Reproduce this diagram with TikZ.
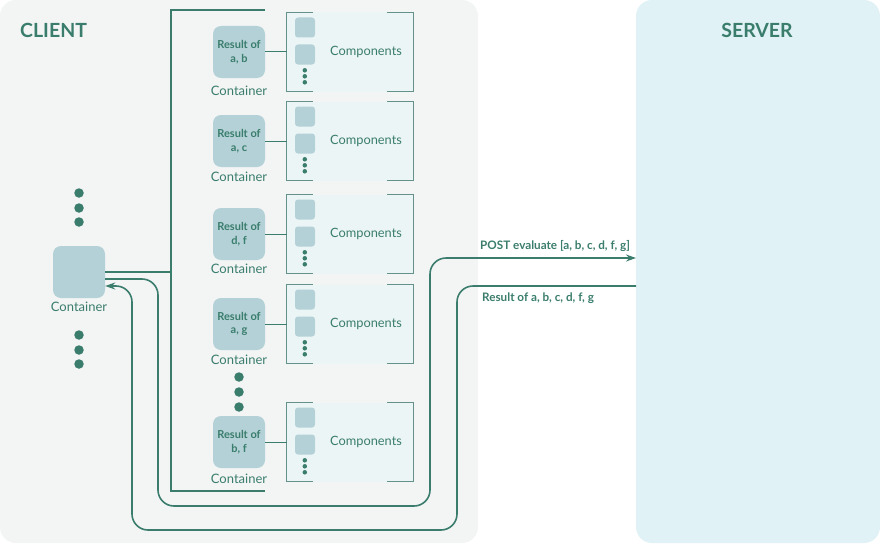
\documentclass[tikz,border=0pt]{standalone}
\usepackage{fontspec}
\setmainfont{Lato}
\usetikzlibrary{arrows.meta}
\definecolor{dgreen}{RGB}{58,125,108}
\definecolor{contfill}{RGB}{179,209,214}
\definecolor{clientbg}{RGB}{243,245,245}
\definecolor{serverbg}{RGB}{224,242,245}
\definecolor{compfill}{RGB}{236,245,246}
\definecolor{compline}{RGB}{100,145,138}
\tikzset{
  cont/.style={rectangle, rounded corners=8pt, fill=contfill, minimum width=52pt, minimum height=52pt, inner sep=0pt, text=dgreen, font=\bfseries\fontsize{11}{13.5}\selectfont, align=center},
  contlab/.style={text=dgreen, font=\fontsize{13}{15}\selectfont, inner sep=0pt},
  compbox/.style={rectangle, fill=compfill, minimum width=126pt, minimum height=79pt, inner sep=0pt},
  complab/.style={text=dgreen, font=\fontsize{12.8}{14}\selectfont, inner sep=0pt},
  minisq/.style={rectangle, rounded corners=3pt, fill=contfill, minimum width=20pt, minimum height=20pt, inner sep=0pt},
  smalldot/.style={circle, fill=dgreen, minimum size=4.5pt, inner sep=0pt},
  bigdot/.style={circle, fill=dgreen, minimum size=9.5pt, inner sep=0pt},
  flow/.style={draw=dgreen, line width=1.6pt, rounded corners=16pt},
  title/.style={text=dgreen, font=\bfseries\fontsize{19.5}{22}\selectfont, inner sep=0pt},
  arrlab/.style={text=dgreen, font=\bfseries\fontsize{11.7}{14}\selectfont, inner sep=0pt, anchor=west},
}
\begin{document}
\begin{tikzpicture}[x=1pt,y=-1pt]
\useasboundingbox (0,0) rectangle (880,543);
\fill[clientbg, rounded corners=16pt] (0,0) rectangle (478,543);
\fill[serverbg, rounded corners=16pt] (636,0) rectangle (880,543);
\node[title, anchor=west] (clientT) at (20,30) {CLIENT};
\node[title] (serverT) at (757,30) {SERVER};

% bracket
\coordinate (bt) at (171,10);
\coordinate (bb) at (171,491);
\draw[dgreen, line width=1.5pt] (265,10) -- (bt) -- (bb) -- (265,491);

% rows
\foreach \i/\y/\ly/\t in {1/52/91/{a, b}, 2/141/177/{a, c}, 3/234/269/{d, f}, 4/324/360/{a, g}, 5/442/479/{b, f}}{
  \node[cont] (c\i) at (239,\y) {Result of\\\t};
  \node[contlab] (cl\i) at (239,\ly) {Container};
  \node[compbox] (k\i) at (350,\y) {};
  \draw[compline, line width=1pt] ([xshift=26pt]k\i.north west) -- (k\i.north west) -- (k\i.south west) -- ([xshift=26pt]k\i.south west);
  \draw[compline, line width=1pt] ([xshift=-26pt]k\i.north east) -- (k\i.north east) -- (k\i.south east) -- ([xshift=-26pt]k\i.south east);
  \node[minisq, anchor=north west] (sa\i) at ([xshift=8pt,yshift=-5pt]k\i.north west) {};
  \node[minisq, anchor=north west] (sb\i) at ([xshift=8pt,yshift=-32pt]k\i.north west) {};
  \node[smalldot] (da\i) at ([xshift=18pt,yshift=-58pt]k\i.north west) {};
  \node[smalldot] (db\i) at ([xshift=18pt,yshift=-64pt]k\i.north west) {};
  \node[smalldot] (dc\i) at ([xshift=18pt,yshift=-70pt]k\i.north west) {};
  \node[complab] (kl\i) at ([xshift=16pt]k\i.center) {Components};
  \draw[dgreen, line width=1pt] (c\i.east) -- (k\i.west);
}
\node[bigdot] (rd1) at (239,377) {};
\node[bigdot] (rd2) at (239,392) {};
\node[bigdot] (rd3) at (239,407) {};

% left container
\node[cont] (L) at (79,272) {};
\node[contlab] (Ll) at (79,307) {Container};
\node[bigdot] (ld1) at (79,193) {};
\node[bigdot] (ld2) at (79,208) {};
\node[bigdot] (ld3) at (79,222) {};
\node[bigdot] (ld4) at (79,335) {};
\node[bigdot] (ld5) at (79,350) {};
\node[bigdot] (ld6) at (79,364) {};
\draw[dgreen, line width=1.5pt] (L.east) -- (L.east -| bt);

% request / response
\coordinate (sreq) at (636,258);
\coordinate (sres) at (636,286);
\draw[flow, -{Stealth[length=10pt,width=7pt]}] ([yshift=-7pt]L.east) -- (158,279) -- (158,506) -- (430,506) -- (430,258) -- (sreq);
\draw[flow, -{Stealth[length=10pt,width=7pt]}] (sres) -- (457,286) -- (457,530) -- (132,530) -- (132,286) -- ([yshift=-14pt]L.east);
\node[arrlab] (reqlab) at (480,246) {POST evaluate [a, b, c, d, f, g]};
\node[arrlab] (reslab) at (482,298) {Result of a, b, c, d, f, g};
\end{tikzpicture}
\end{document}
